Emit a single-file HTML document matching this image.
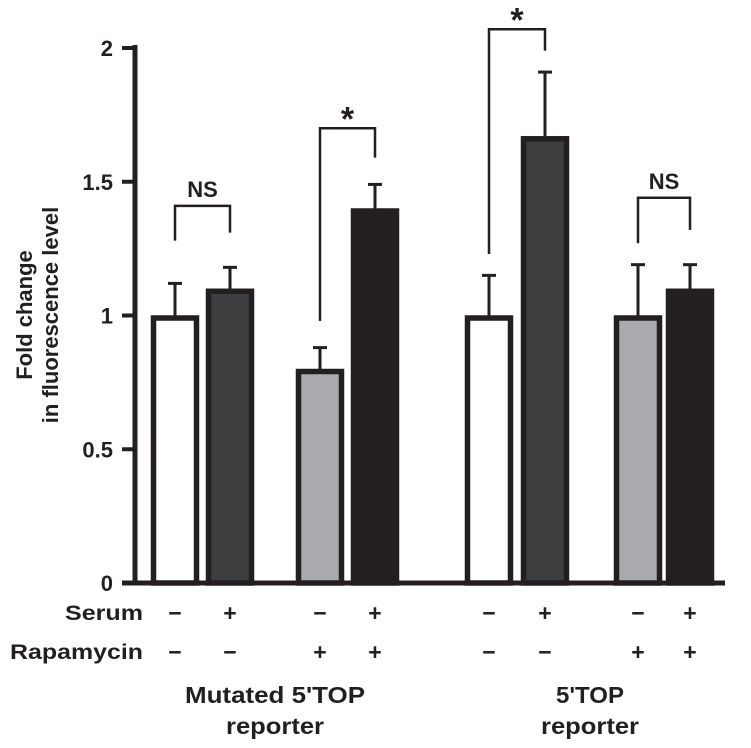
<!DOCTYPE html>
<html><head><meta charset="utf-8"><style>
body{margin:0;background:#fff}
svg text{font-family:"Liberation Sans",Arial,sans-serif;font-weight:bold;fill:#231f20}
</style></head><body>
<svg id="chart" width="751" height="743" viewBox="0 0 751 743" xmlns="http://www.w3.org/2000/svg"></svg>
<script>
const categories=["mut-ctrl","mut-serum","mut-rapa","mut-serum-rapa","top-ctrl","top-serum","top-rapa","top-serum-rapa"];
const values=[1.0,1.1,0.8,1.4,1.0,1.67,1.0,1.1];
const errors=[0.12,0.08,0.08,0.09,0.15,0.24,0.19,0.09];
const fills=["#ffffff","#3d3e40","#a9aaad","#231f20","#ffffff","#3d3e40","#a9aaad","#231f20"];
const serumSigns=["\u2212","+","\u2212","+","\u2212","+","\u2212","+"];
const rapaSigns=["\u2212","\u2212","+","+","\u2212","\u2212","+","+"];
const yTicks=[0,0.5,1,1.5,2];
const yTickLabels=["0","0.5","1","1.5","2"];
const brackets=[{a:0,b:1,top:1.41,legA:1.28,legB:1.31,label:"NS"},{a:2,b:3,top:1.70,legA:0.98,legB:1.59,label:"*"},{a:4,b:5,top:2.07,legA:1.23,legB:1.99,label:"*"},{a:6,b:7,top:1.44,legA:1.27,legB:1.32,label:"NS"}];

const svg=document.getElementById('chart');
const NS="http://www.w3.org/2000/svg";
const x0=135,y0=583,unit=267.5;
const barX=[175,230,320,375,489,545,638,690];
const barW=48;
function yS(v){return y0-v*unit;}
function xS(i){return barX[i];}
function mk(tag,attrs,parent){const e=document.createElementNS(NS,tag);for(const k in attrs)e.setAttribute(k,attrs[k]);(parent||svg).appendChild(e);return e;}

categories.forEach((c,i)=>{
  const cx=xS(i),v=values[i],e=errors[i];
  const eb=mk('line',{x1:cx,x2:cx,y1:yS(v),y2:yS(v+e),stroke:'#231f20','stroke-width':3});
  
  
  const cap=mk('line',{x1:cx-7,x2:cx+7,y1:yS(v+e),y2:yS(v+e),stroke:'#231f20','stroke-width':3});
  
  
  const r=mk('rect',{x:cx-barW/2+2.5,y:yS(v)+2.5,width:barW-5,height:y0-yS(v)-2.5,fill:fills[i],stroke:'#231f20','stroke-width':5.5});
  
  
  const s=mk('text',{x:cx,y:621,'text-anchor':'middle','font-size':23});
  s.textContent=serumSigns[i];
  
  
  const rp=mk('text',{x:cx,y:660,'text-anchor':'middle','font-size':23});
  rp.textContent=rapaSigns[i];
  
  
});

const ya=mk('line',{x1:x0,x2:x0,y1:45,y2:y0+2.5,stroke:'#231f20','stroke-width':5});


const xa=mk('line',{x1:122,x2:725,y1:y0,y2:y0,stroke:'#231f20','stroke-width':5});


yTicks.forEach((t,i)=>{
  const tk=mk('line',{x1:122,x2:x0,y1:yS(t),y2:yS(t),stroke:'#231f20','stroke-width':4});
  
  
  const lb=mk('text',{x:113,y:yS(t)+8,'text-anchor':'end','font-size':22});
  lb.textContent=yTickLabels[i];
  
  
});

brackets.forEach(b=>{
  const xa_=xS(b.a),xb=xS(b.b),top=yS(b.top);
  const p=mk('path',{d:`M${xa_},${yS(b.legA)}V${top}H${xb}V${yS(b.legB)}`,fill:'none',stroke:'#231f20','stroke-width':2.5});
  
  
  const t=mk('text',{x:(xa_+xb)/2,y:b.label==='*'?top+2:top-9,'text-anchor':'middle','font-size':b.label==='*'?34:22});
  t.textContent=b.label;
  
  
});

function txt(x,y,s,size,anchor,name,extra){const t=mk('text',Object.assign({x:x,y:y,'text-anchor':anchor,'font-size':size},extra||{}));t.textContent=s;return t;}
txt(143,620,'Serum',21,'end','serum-row-label',{textLength:78,lengthAdjust:'spacingAndGlyphs'});
txt(143,659,'Rapamycin',21,'end','rapamycin-row-label',{textLength:133,lengthAdjust:'spacingAndGlyphs'});
txt(275,703,"Mutated 5'TOP",23,'middle','group-label-mutated',{textLength:180,lengthAdjust:'spacingAndGlyphs'});
txt(275,734,'reporter',23,'middle','group-label-mutated-line2',{textLength:98,lengthAdjust:'spacingAndGlyphs'});
txt(590,703,"5'TOP",23,'middle','group-label-top',{textLength:68,lengthAdjust:'spacingAndGlyphs'});
txt(590,734,'reporter',23,'middle','group-label-top-line2',{textLength:98,lengthAdjust:'spacingAndGlyphs'});
txt(0,0,'Fold change',22,'middle','y-axis-title',{transform:'translate(32,315) rotate(-90)'});
txt(0,0,'in fluorescence level',22,'middle','y-axis-title-line2',{transform:'translate(58,315) rotate(-90)'});
</script>
</body></html>
